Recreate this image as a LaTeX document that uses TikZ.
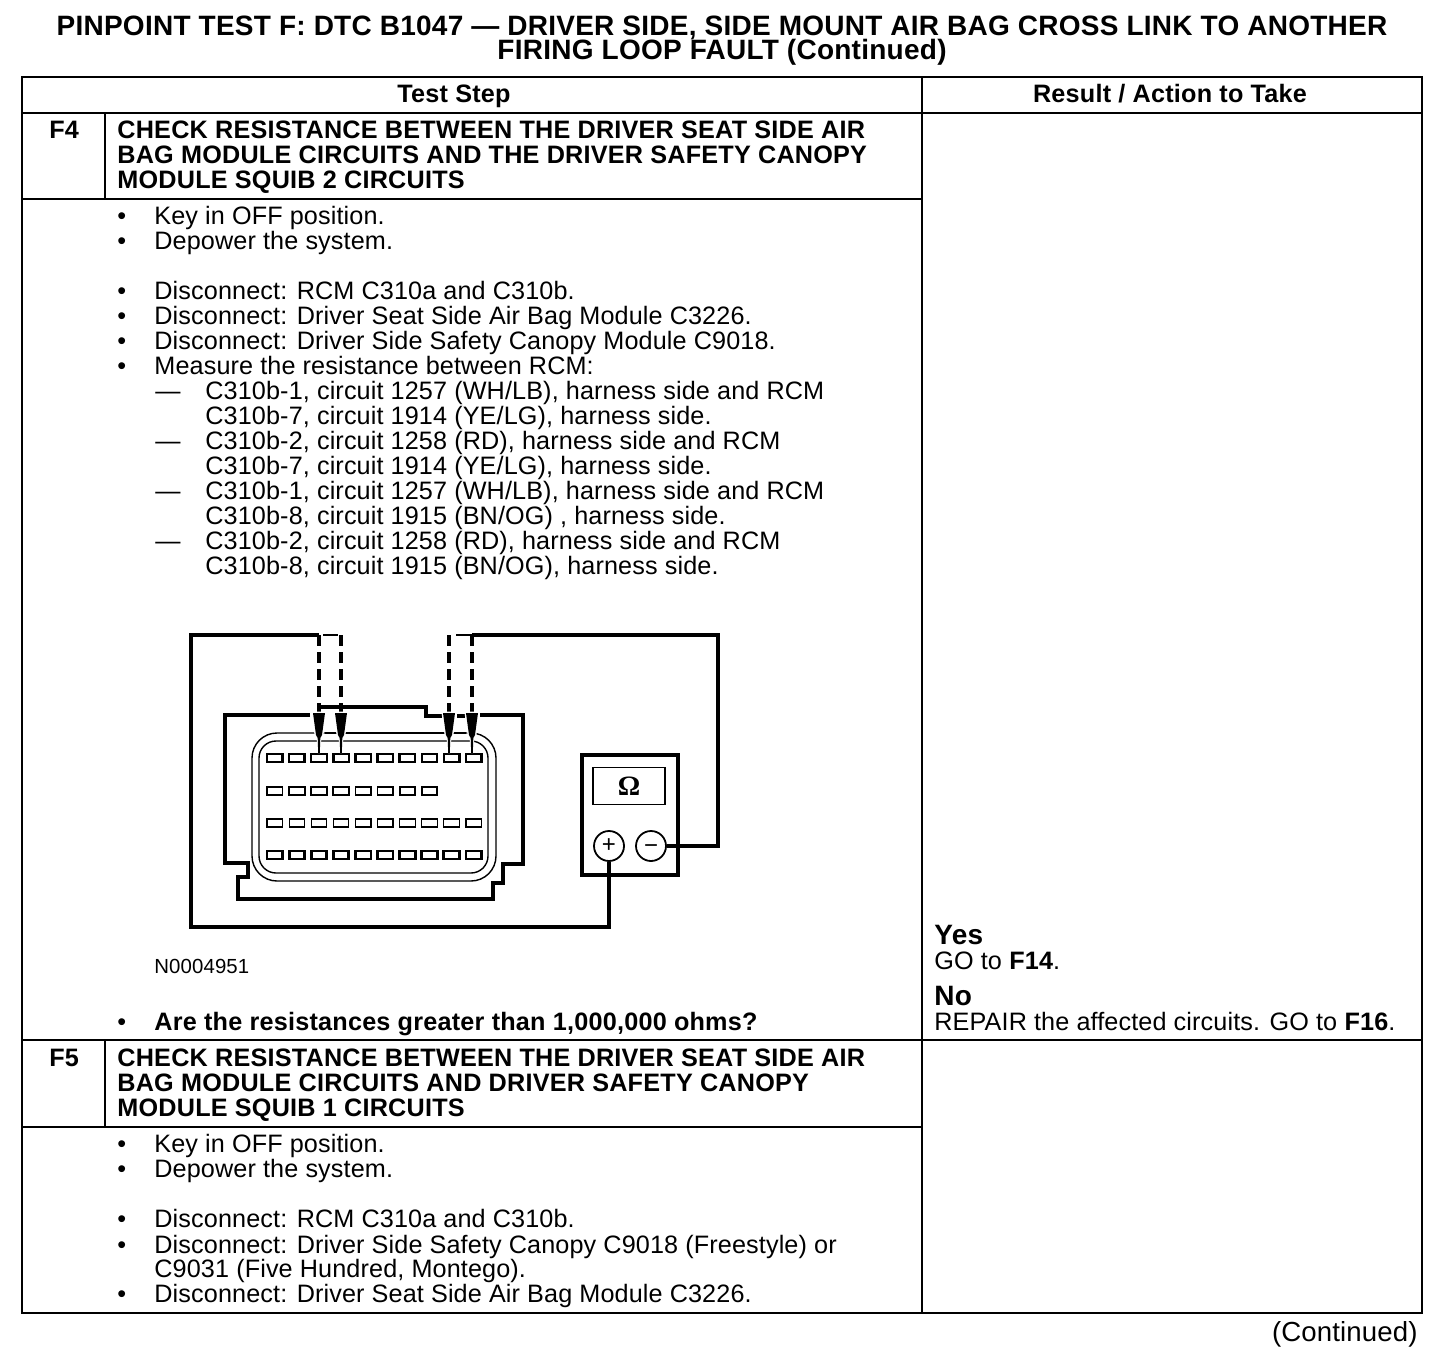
\documentclass[tikz,border=0pt]{standalone}
\usepackage{fontspec}
\setmainfont[LetterSpace=0.5,BoldFeatures={LetterSpace=0.9}]{Liberation Sans}
\newfontfamily\omfont{Liberation Serif}
\usetikzlibrary{calc}
\tikzset{
  txt/.style={anchor=base west,inner sep=0pt,font=\fontsize{12.6}{15}\selectfont},
  hd/.style={txt,font=\fontsize{12.6}{15}\selectfont\bfseries},
  ttl/.style={hd,anchor=base,font=\fontsize{14}{15}\selectfont\bfseries},
  rule/.style={line width=0.75pt},
  wire/.style={line width=1.6pt,line join=miter},
  probewire/.style={line width=1.4pt,dash pattern=on 5.5pt off 3pt},
  housing/.style={line width=1.6pt,line join=miter},
  dial/.style={circle,draw,line width=0.9pt,minimum size=15pt,inner sep=0pt,font=\fontsize{12}{12}\selectfont}
}
\begin{document}
\begin{tikzpicture}[x=0.5pt,y=-0.5pt]
\useasboundingbox (0,0) rectangle (1456,1364);
% title
\node[ttl] (title1) at (722,36) {PINPOINT TEST F: DTC B1047 --- DRIVER SIDE, SIDE MOUNT AIR BAG CROSS LINK TO ANOTHER};
\node[ttl] (title2) at (722,60) {FIRING LOOP FAULT (Continued)};
% table
\draw[rule] (22,77) rectangle (1422,1313);
\draw[rule] (22,113) -- (1422,113);
\draw[rule] (922,77) -- (922,1313);
\draw[rule] (22,199) -- (922,199);
\draw[rule] (22,1040) -- (1422,1040);
\draw[rule] (22,1127) -- (922,1127);
\draw[rule] (105,113) -- (105,199);
\draw[rule] (105,1040) -- (105,1127);
\node[hd,anchor=base] (teststep) at (454,103) {Test Step};
\node[hd,anchor=base] (result) at (1170,103) {Result / Action to Take};
\node[hd] (f4) at (49,139) {F4};
\node[hd] (f5) at (49,1066) {F5};
% headings
\foreach \y/\t in {139/CHECK RESISTANCE BETWEEN THE DRIVER SEAT SIDE AIR,
    164/BAG MODULE CIRCUITS AND THE DRIVER SAFETY CANOPY,
    189/MODULE SQUIB 2 CIRCUITS,
    1066/CHECK RESISTANCE BETWEEN THE DRIVER SEAT SIDE AIR,
    1091/BAG MODULE CIRCUITS AND DRIVER SAFETY CANOPY,
    1116/MODULE SQUIB 1 CIRCUITS}
  \node[hd] (h\y) at (117,\y) {\t};
% bullet lines
\foreach \n/\y/\t in {a/225/Key in OFF position.,
    b/249.6/Depower the system.,
    c/299.6/{Disconnect: RCM C310a and C310b.},
    d/324/{Disconnect: Driver Seat Side Air Bag Module C3226.},
    e/350/{Disconnect: Driver Side Safety Canopy Module C9018.},
    f/374/{Measure the resistance between RCM:},
    g/1152/Key in OFF position.,
    h/1177/Depower the system.,
    i/1227.6/{Disconnect: RCM C310a and C310b.},
    j/1253/{Disconnect: Driver Side Safety Canopy C9018 (Freestyle) or},
    k/1302.6/{Disconnect: Driver Seat Side Air Bag Module C3226.}}{
  \node[txt] (bul\n) at (117,\y) {•};
  \node[txt] (line\n) at (154,\y) {\t};
}
\node[txt] (l1277) at (154,1277) {C9031 (Five Hundred, Montego).};
% dash lines
\foreach \y/\t in {399/{C310b-1, circuit 1257 (WH/LB), harness side and RCM},
    449/{C310b-2, circuit 1258 (RD), harness side and RCM},
    499/{C310b-1, circuit 1257 (WH/LB), harness side and RCM},
    549/{C310b-2, circuit 1258 (RD), harness side and RCM}}{
  \node[txt] (d\y) at (155,\y) {---};
  \node[txt] (s\y) at (205,\y) {\t};
}
\foreach \y/\t in {424/{C310b-7, circuit 1914 (YE/LG), harness side.},
    474/{C310b-7, circuit 1914 (YE/LG), harness side.},
    524/{C310b-8, circuit 1915 (BN/OG) , harness side.},
    574/{C310b-8, circuit 1915 (BN/OG), harness side.}}
  \node[txt] (s\y) at (205,\y) {\t};
\node[txt,font=\fontsize{10.2}{12}\selectfont] (ref) at (154,973) {N0004951};
\node[txt] (b1030) at (117,1030) {•};
\node[hd] (question) at (154,1030) {Are the resistances greater than 1,000,000 ohms?};
% results
\node[hd,font=\fontsize{14}{15}\selectfont\bfseries] (yes) at (934,944) {Yes};
\node[txt] (goyes) at (934,969) {GO to \textbf{F14}.};
\node[hd,font=\fontsize{14}{15}\selectfont\bfseries] (no) at (934,1005) {No};
\node[txt] (gono) at (934,1030) {REPAIR the affected circuits. GO to \textbf{F16}.};
\node[txt,anchor=base east,font=\fontsize{13.8}{15}\selectfont] (cont) at (1418,1341) {(Continued)};
% connector housing
\draw[housing] (310,715) -- (225,715) -- (225,863) -- (248,863) -- (248,877) -- (238,877) -- (238,899) -- (493,899) -- (493,883) -- (503,883) -- (503,864) -- (523,864) -- (523,715) -- (480,715);
\draw[housing] (319,713) -- (319,707) -- (426,707) -- (426,716) -- (444,716);
\draw[housing] (457,716) -- (467,716);
\draw[line width=0.7pt,rounded corners=12.5pt] (252,733) rectangle (496,881);
\draw[line width=0.7pt,rounded corners=8.5pt] (259,741) rectangle (488,873);
\draw[line width=1.3pt] (325,733) -- (466,733);
% terminals
\foreach \r/\n/\w in {754/9/1.2pt,787/7/0.9pt,819/9/0.6pt,851/9/1.4pt}
  \foreach \i in {0,...,\n}
    \draw[line width=\w] ({267+22.1*\i},\r) rectangle ++(15.5,8);
% meter
\node[draw,line width=1.8pt,minimum width=48pt,minimum height=60pt,inner sep=0pt] (meter) at (630,815) {};
\node[draw,line width=0.8pt,minimum width=36pt,minimum height=18.5pt,inner sep=0pt,font=\fontsize{14}{14}\selectfont\omfont\bfseries] (display) at (629,786) {Ω};
\node[dial] (plus) at (609,846) {+};
\node[dial] (minus) at (651,846) {\raisebox{-3.5pt}[0pt][0pt]{−}};
% wires and probes
\coordinate (rtop) at (718,635);
\coordinate (lbot) at (191,927);
\foreach \n/\x/\w in {a/319/2pt,b/341/1.6pt,c/449/1.6pt,d/472/1.8pt}{
  \coordinate (top\n) at (\x,635);
  \coordinate (tip\n) at (\x,753);
  \draw[probewire,line width=\w] (top\n) -- (\x,713);
  \draw[white,line width=1.4pt,fill=white] (\x-6,713) -- (\x+6,713) -- (\x+3,735) -- (\x+1,738) -- (tip\n) -- (\x-1,738) -- (\x-3,735) -- cycle;
  \fill (\x-6,713) -- (\x+6,713) -- (\x+3,735) -- (\x+1.3,738) -- (\x+0.8,753) -- (\x-0.8,753) -- (\x-1.3,738) -- (\x-3,735) -- cycle;
}
\draw[wire] (minus.east) -| (rtop) -- (topd);
\draw[wire] (plus.south) |- (lbot) |- (topa);
\draw[probewire,dash pattern=] (323,635) -- (338,635);
\draw[probewire,dash pattern=] (456,635) -- (472,635);
\end{tikzpicture}
\end{document}
